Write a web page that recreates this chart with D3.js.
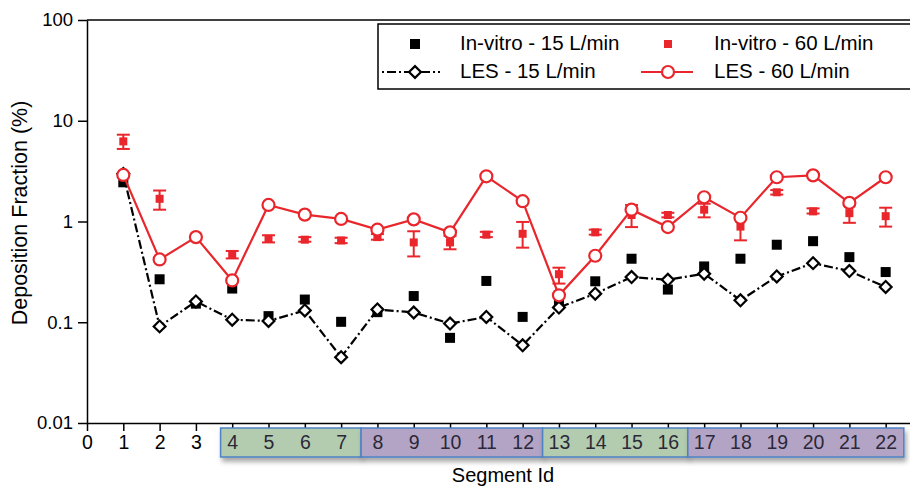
<!DOCTYPE html>
<html>
<head>
<meta charset="utf-8">
<title>Deposition Fraction</title>
<script src="https://cdn.jsdelivr.net/npm/d3@7"></script>
<style>
  body { margin: 0; background: #fff; }
  text { font-family: "Liberation Sans", Arial, Helvetica, sans-serif; }
</style>
</head>
<body>
<script>
  const width = 910, height = 487;

  // segment ids and series
  const segments = d3.range(1, 23);
  const les60 = [2.9, 0.42, 0.70, 0.26, 1.46, 1.17, 1.06, 0.83, 1.05, 0.78, 2.81, 1.59, 0.185, 0.457, 1.31, 0.88, 1.74, 1.09, 2.75, 2.87, 1.53, 2.75];
  const les15 = [2.97, 0.091, 0.161, 0.106, 0.103, 0.131, 0.045, 0.134, 0.125, 0.097, 0.113, 0.059, 0.140, 0.192, 0.281, 0.264, 0.303, 0.165, 0.285, 0.386, 0.322, 0.224];
  const vitro15 = [2.45, 0.267, 0.153, 0.216, 0.115, 0.168, 0.101, 0.126, 0.182, 0.070, 0.257, 0.113, 0.15, 0.255, 0.427, 0.211, 0.358, 0.427, 0.588, 0.638, 0.443, 0.315];
  const vitro60 = [6.24, 1.68, null, 0.468, 0.674, 0.66, 0.648, 0.70, 0.62, 0.62, 0.74, 0.755, 0.30, 0.78, 1.16, 1.16, 1.31, 0.89, 1.95, 1.26, 1.21, 1.13];
  const vitro60Lo = [5.25, 1.31, null, 0.43, 0.62, 0.63, 0.61, 0.66, 0.45, 0.53, 0.70, 0.55, 0.242, 0.74, 0.88, 1.10, 1.10, 0.65, 1.85, 1.20, 0.97, 0.89];
  const vitro60Hi = [7.27, 2.03, null, 0.51, 0.73, 0.70, 0.69, 0.75, 0.80, 0.72, 0.79, 0.99, 0.348, 0.83, 1.46, 1.22, 1.50, 1.05, 2.05, 1.35, 1.45, 1.37];

  const xTicks = d3.range(0, 23);
  const yTicks = [0.01, 0.1, 1, 10, 100];
  const groups = [
    {from: 4, to: 7, kind: 'green'},
    {from: 8, to: 12, kind: 'purple'},
    {from: 13, to: 16, kind: 'green'},
    {from: 17, to: 22, kind: 'purple'}
  ];
  const legendItems = [
    {label: 'In-vitro - 15 L/min', type: 'sq15'},
    {label: 'In-vitro - 60 L/min', type: 'sq60'},
    {label: 'LES - 15 L/min', type: 'les15'},
    {label: 'LES - 60 L/min', type: 'les60'}
  ];

  const red = '#e8262c';
  const boxFill = {green: '#b3ccaf', purple: '#b3a4c6'};

  const svg = d3.select('body').append('svg')
    .attr('width', width)
    .attr('height', height);

  const defs = svg.append('defs');
  defs.append('filter').attr('id', 'shadow')
    .attr('x', '-10%').attr('y', '-30%').attr('width', '120%').attr('height', '190%')
    .append('feDropShadow')
    .attr('dx', 2).attr('dy', 4).attr('stdDeviation', 2.5)
    .attr('flood-color', '#000').attr('flood-opacity', 0.35);

  const pLeft = 87, pRight = 910, pTop = 20, pBottom = 423;

  const x = d3.scaleLinear().domain([0, 22.67]).range([pLeft, pRight]);
  const y = d3.scaleLog().domain([0.01, 100]).range([pBottom, pTop]);

  // top frame line
  svg.append('line')
    .attr('x1', pLeft).attr('x2', pRight)
    .attr('y1', pTop).attr('y2', pTop)
    .attr('stroke', '#000').attr('stroke-width', 1.5);

  // axes
  const yAxis = svg.append('g')
    .attr('transform', `translate(${pLeft},0)`)
    .call(d3.axisLeft(y).tickValues(yTicks).tickFormat(d => String(d)).tickSize(9).tickPadding(5).tickSizeOuter(0));
  yAxis.selectAll('text').attr('font-size', 18.5).attr('fill', '#000');

  const xAxis = svg.append('g')
    .attr('transform', `translate(0,${pBottom})`)
    .call(d3.axisBottom(x).tickValues(xTicks).tickFormat('').tickSize(8).tickSizeOuter(0));

  svg.selectAll('.domain').attr('stroke', '#000').attr('stroke-width', 1.5);
  svg.selectAll('.tick line').attr('stroke', '#000').attr('stroke-width', 1.5);

  // segment group boxes
  const boxes = svg.append('g');
  groups.forEach((g, i) => {
    const x0 = i === 0 ? g.from - 0.32 : (groups[i - 1].to + g.from) / 2 + 0.05;
    const x1 = i === groups.length - 1 ? g.to + 0.5 : (g.to + groups[i + 1].from) / 2 + 0.05;
    boxes.append('rect')
      .attr('x', x(x0)).attr('y', pBottom + 5)
      .attr('width', x(x1) - x(x0)).attr('height', 29)
      .attr('fill', boxFill[g.kind])
      .attr('stroke', '#4d82c4').attr('stroke-width', 1.5)
      .attr('filter', 'url(#shadow)');
  });

  // x tick labels above the boxes
  const xLabels = svg.append('g')
    .attr('transform', `translate(0,${pBottom})`)
    .call(d3.axisBottom(x).tickValues(xTicks).tickSize(0).tickPadding(12));
  xLabels.select('.domain').remove();
  xLabels.selectAll('text')
    .attr('font-size', 19.5)
    .attr('fill', d => d >= 4 ? '#2b2838' : '#000');

  // axis titles
  svg.append('text')
    .attr('x', 503).attr('y', 482)
    .attr('text-anchor', 'middle')
    .attr('font-size', 20)
    .text('Segment Id');

  svg.append('text')
    .attr('transform', 'translate(27,213) rotate(-90)')
    .attr('text-anchor', 'middle')
    .attr('font-size', 21.5)
    .text('Deposition Fraction (%)');

  // in-vitro 15 squares
  svg.append('g').selectAll('rect')
    .data(segments.map((s, i) => ({s, v: vitro15[i]})))
    .join('rect')
    .attr('x', d => x(d.s) - 5).attr('y', d => y(d.v) - 5)
    .attr('width', 10).attr('height', 10)
    .attr('fill', '#000');

  // in-vitro 60 squares with error bars
  const v60 = segments.map((s, i) => ({s, v: vitro60[i], lo: vitro60Lo[i], hi: vitro60Hi[i]}))
    .filter(d => d.v != null);
  const eb = svg.append('g').attr('stroke', red).attr('stroke-width', 2);
  eb.selectAll('.stem').data(v60).join('line')
    .attr('x1', d => x(d.s)).attr('x2', d => x(d.s))
    .attr('y1', d => y(d.lo)).attr('y2', d => y(d.hi));
  eb.selectAll('.capLo').data(v60).join('line')
    .attr('x1', d => x(d.s) - 6.5).attr('x2', d => x(d.s) + 6.5)
    .attr('y1', d => y(d.lo)).attr('y2', d => y(d.lo));
  eb.selectAll('.capHi').data(v60).join('line')
    .attr('x1', d => x(d.s) - 6.5).attr('x2', d => x(d.s) + 6.5)
    .attr('y1', d => y(d.hi)).attr('y2', d => y(d.hi));
  svg.append('g').selectAll('rect')
    .data(v60)
    .join('rect')
    .attr('x', d => x(d.s) - 4).attr('y', d => y(d.v) - 4)
    .attr('width', 8).attr('height', 8)
    .attr('fill', red);

  // LES 15 dash-dot line with diamonds
  const line = d3.line().x(d => x(d.s)).y(d => y(d.v));
  const l15 = segments.map((s, i) => ({s, v: les15[i]}));
  svg.append('path')
    .attr('d', line(l15))
    .attr('fill', 'none').attr('stroke', '#000').attr('stroke-width', 2.2)
    .attr('stroke-dasharray', '9,3,2,3');
  const diamond = d3.symbol().type(d3.symbolSquare).size(70);
  svg.append('g').selectAll('path')
    .data(l15)
    .join('path')
    .attr('d', diamond)
    .attr('transform', d => `translate(${x(d.s)},${y(d.v)}) rotate(45)`)
    .attr('fill', '#fff').attr('stroke', '#000').attr('stroke-width', 2.2);

  // LES 60 solid line with open circles
  const l60 = segments.map((s, i) => ({s, v: les60[i]}));
  svg.append('path')
    .attr('d', line(l60))
    .attr('fill', 'none').attr('stroke', red).attr('stroke-width', 2.2);
  svg.append('g').selectAll('circle')
    .data(l60)
    .join('circle')
    .attr('cx', d => x(d.s)).attr('cy', d => y(d.v))
    .attr('r', 6)
    .attr('fill', '#fff').attr('stroke', red).attr('stroke-width', 2.2);

  // legend
  const lg = svg.append('g');
  lg.append('rect')
    .attr('x', 378).attr('y', 24)
    .attr('width', 560).attr('height', 65)
    .attr('fill', '#fff').attr('stroke', '#000').attr('stroke-width', 1.5);

  legendItems.forEach((item, i) => {
    const col = i % 2, row = Math.floor(i / 2);
    const cx = col === 0 ? 415 : 668;
    const cy = row === 0 ? 44 : 72;
    const g = lg.append('g');
    if (item.type === 'sq15') {
      g.append('rect').attr('x', cx - 5).attr('y', cy - 5).attr('width', 10).attr('height', 10).attr('fill', '#000');
    } else if (item.type === 'sq60') {
      g.append('rect').attr('x', cx - 4).attr('y', cy - 4).attr('width', 8).attr('height', 8).attr('fill', red);
    } else if (item.type === 'les15') {
      g.append('line').attr('x1', cx - 33).attr('x2', cx + 25).attr('y1', cy).attr('y2', cy)
        .attr('stroke', '#000').attr('stroke-width', 2.2).attr('stroke-dasharray', '2,3,9,3');
      g.append('path').attr('d', diamond)
        .attr('transform', `translate(${cx},${cy}) rotate(45)`)
        .attr('fill', '#fff').attr('stroke', '#000').attr('stroke-width', 2.2);
    } else {
      g.append('line').attr('x1', cx - 27).attr('x2', cx + 25).attr('y1', cy).attr('y2', cy)
        .attr('stroke', red).attr('stroke-width', 2.2);
      g.append('circle').attr('cx', cx).attr('cy', cy).attr('r', 6)
        .attr('fill', '#fff').attr('stroke', red).attr('stroke-width', 2.2);
    }
    g.append('text')
      .attr('x', col === 0 ? 460 : 714)
      .attr('y', row === 0 ? 50 : 78)
      .attr('font-size', 20.5)
      .text(item.label);
  });
</script>
</body>
</html>
